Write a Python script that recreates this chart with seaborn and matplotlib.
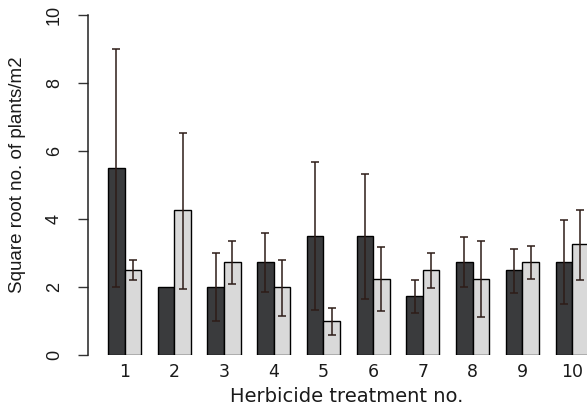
import numpy as np
import pandas as pd
import matplotlib
matplotlib.use("Agg")
import matplotlib.pyplot as plt
import seaborn as sns

# values (square root of plants/m2)
treatments = ["1", "2", "3", "4", "5", "6", "7", "8", "9", "10"]
dark_mean = [5.5, 2.0, 2.0, 2.75, 3.5, 3.5, 1.75, 2.75, 2.5, 2.75]
dark_lo = [2.0, np.nan, 1.0, 1.85, 1.32, 1.65, 1.25, 2.0, 1.82, 1.5]
dark_hi = [9.0, np.nan, 3.0, 3.58, 5.67, 5.32, 2.22, 3.48, 3.12, 3.97]
light_mean = [2.5, 4.25, 2.75, 2.0, 1.0, 2.25, 2.5, 2.25, 2.75, 3.25]
light_lo = [2.2, 1.95, 2.1, 1.15, 0.6, 1.28, 1.98, 1.13, 2.24, 2.2]
light_hi = [2.8, 6.52, 3.36, 2.8, 1.39, 3.17, 2.99, 3.34, 3.22, 4.26]
groups = ["A", "B"]
colors = ["#3a3b3d", "#d9d9d9"]

sns.set_style("white")
plt.rcParams['font.family'] = ['Liberation Sans', 'DejaVu Sans']

df = pd.DataFrame({
    "treatment": treatments * 2,
    "value": dark_mean + light_mean,
    "group": [groups[0]] * len(treatments) + [groups[1]] * len(treatments),
})

fig = plt.figure(figsize=(5.87, 4.09), dpi=100)
ax = fig.add_axes([88 / 587, 54 / 409, 499 / 587, 340 / 409])

sns.barplot(data=df, x="treatment", y="value", hue="group", order=treatments,
            hue_order=groups, palette=colors, width=2 / 3, edgecolor="black",
            linewidth=1, errorbar=None, legend=False, ax=ax)

# asymmetric error bars on top of each bar
err_col = "#2e1c18"
for cont, mean, lo, hi in zip(ax.containers, [dark_mean, light_mean],
                              [dark_lo, light_lo], [dark_hi, light_hi]):
    xs = [r.get_x() + r.get_width() / 2 for r in cont]
    m = np.array(mean)
    yerr = np.vstack([m - np.array(lo), np.array(hi) - m])
    ax.errorbar(xs, m, yerr=yerr, fmt="none", ecolor=err_col, elinewidth=1.1,
                capsize=3, capthick=1.1, clip_on=False, zorder=5)

ax.set_xlim(-0.734, 9.30)
ax.set_ylim(0, 10)
ax.set_yticks([0, 2, 4, 6, 8, 10])
for s in ["top", "right", "bottom"]:
    ax.spines[s].set_visible(False)
ax.spines["left"].set_color("#222222")
ax.spines["left"].set_linewidth(1.1)

txt_col = "#1a1a1a"
ax.tick_params(axis="y", left=True, length=7, width=1, color="#333333",
               labelsize=13, labelcolor=txt_col, pad=11)
for lab in ax.get_yticklabels():
    lab.set_rotation(90)
    lab.set_va("center")
ax.tick_params(axis="x", bottom=False, length=0, labelcolor=txt_col, pad=6)
for lab in ax.get_xticklabels():
    lab.set_fontfamily("DejaVu Sans")
    lab.set_fontsize(12.5)

ax.set_xlabel("Herbicide treatment no.", fontsize=14, color=txt_col,
              family="DejaVu Sans")
ax.xaxis.set_label_coords((347 - 88) / 499, -(397 - 355) / 340)
ax.set_ylabel("Square root no. of plants/m2", fontsize=13.5, color=txt_col)
ax.yaxis.set_label_coords(-(88 - 18) / 499, (355 - 175) / 340)
ax.xaxis.label.set_va("center")
ax.yaxis.label.set_va("center")

fig.savefig("out.png", dpi=100)
